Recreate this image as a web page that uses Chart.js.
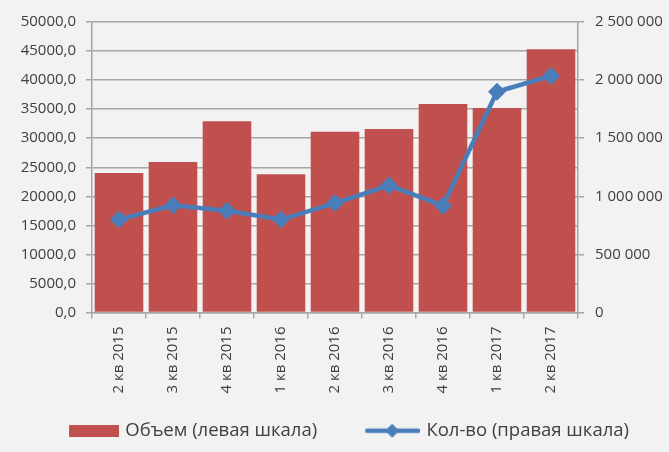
<!DOCTYPE html>
<html>
<head>
<meta charset="utf-8">
<script src="https://cdn.jsdelivr.net/npm/chart.js@4"></script>
<style>
  body { margin: 0; background: #F2F2F2; }
  canvas { display: block; }
</style>
</head>
<body>
<canvas id="myChart" width="669" height="452"></canvas>
<script>
'use strict'

const quarters = ['2 кв 2015', '3 кв 2015', '4 кв 2015', '1 кв 2016', '2 кв 2016', '3 кв 2016', '4 кв 2016', '1 кв 2017', '2 кв 2017'];
const volume = [24000, 25900, 32900, 23800, 31100, 31600, 35900, 35200, 45300];
const count = [800000, 922000, 876000, 800000, 942000, 1094000, 919000, 1900000, 2036000];
const volumeLabel = 'Объем (левая шкала)';
const countLabel = 'Кол-во (правая шкала)';

const red = '#C0504D';
const blue = '#4A7EBB';
const gridColor = '#A6A6A6';
const textColor = '#404040';

Chart.defaults.font.family = '"Open Sans", sans-serif';
Chart.defaults.font.size = 15;
Chart.defaults.color = textColor;

// legend pictures, drawn to the right of an empty strip so items sit apart
function barIcon() {
  const c = document.createElement('canvas');
  c.width = 82; c.height = 12;
  const g = c.getContext('2d');
  g.fillStyle = red;
  g.fillRect(32, 0, 50, 12);
  return c;
}

function lineIcon() {
  const c = document.createElement('canvas');
  c.width = 82; c.height = 16;
  const g = c.getContext('2d');
  g.strokeStyle = blue;
  g.lineWidth = 4.5;
  g.lineCap = 'round';
  g.beginPath();
  g.moveTo(29, 8);
  g.lineTo(80, 8);
  g.stroke();
  g.fillStyle = blue;
  g.beginPath();
  g.moveTo(54, 1);
  g.lineTo(61, 8);
  g.lineTo(54, 15);
  g.lineTo(47, 8);
  g.closePath();
  g.fill();
  return c;
}

function leftFormat(v) {
  return v.toFixed(1).replace('.', ',');
}

function rightFormat(v) {
  return String(v).replace(/\B(?=(\d{3})+(?!\d))/g, ' ');
}

const ctx = document.getElementById('myChart').getContext('2d');
const chart = new Chart(ctx, {
  type: 'bar',
  data: {
    labels: quarters,
    datasets: [{
      type: 'bar',
      label: volumeLabel,
      data: volume,
      backgroundColor: red,
      barPercentage: 0.9,
      categoryPercentage: 1,
      yAxisID: 'y',
      order: 2
    },
    {
      type: 'line',
      label: countLabel,
      data: count,
      borderColor: blue,
      backgroundColor: blue,
      borderWidth: 4.5,
      pointStyle: 'rectRot',
      pointRadius: 9,
      pointBorderWidth: 0,
      pointBackgroundColor: blue,
      yAxisID: 'y1',
      order: 1,
      tension: 0
    }]
  },
  options: {
    responsive: false,
    animation: false,
    devicePixelRatio: 1,
    layout: { padding: { top: 22, left: 0, right: 0, bottom: 2 } },
    plugins: {
      tooltip: { enabled: false },
      legend: {
        position: 'bottom',
        labels: {
          usePointStyle: true,
          pointStyleWidth: 76,
          padding: 24,
          font: { size: 18.5 },
          color: textColor,
          generateLabels: function(chart) {
            return [
              { text: volumeLabel, pointStyle: barIcon(), datasetIndex: 0, fontColor: textColor, lineWidth: 0 },
              { text: countLabel, pointStyle: lineIcon(), datasetIndex: 1, fontColor: textColor, lineWidth: 0 }
            ];
          }
        }
      }
    },
    scales: {
      x: {
        offset: true,
        grid: { offset: true, drawOnChartArea: false, drawTicks: true, tickLength: 6, color: gridColor, lineWidth: 1.5 },
        border: { color: gridColor, width: 1.5 },
        ticks: { minRotation: 90, maxRotation: 90, padding: 8, autoSkip: false },
        afterFit: function(scale) { scale.height = 85; }
      },
      y: {
        position: 'left',
        min: 0,
        max: 50000,
        ticks: { stepSize: 5000, padding: 10, callback: leftFormat },
        grid: { color: gridColor, lineWidth: 1.5, tickLength: 6 },
        border: { color: gridColor, width: 1.5 },
        afterFit: function(scale) { scale.width = 92; }
      },
      y1: {
        position: 'right',
        min: 0,
        max: 2500000,
        ticks: { stepSize: 500000, padding: 11, callback: rightFormat },
        grid: { drawOnChartArea: false, color: gridColor, lineWidth: 1.5, tickLength: 6 },
        border: { color: gridColor, width: 1.5 },
        afterFit: function(scale) { scale.width = 91; }
      }
    }
  }
});
</script>
</body>
</html>
